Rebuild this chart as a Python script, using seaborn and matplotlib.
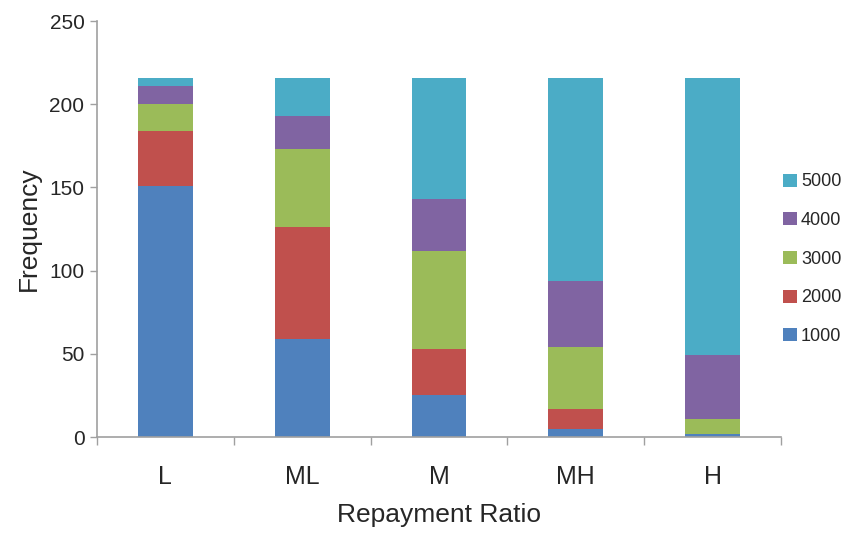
import matplotlib
matplotlib.use("Agg")
import matplotlib.pyplot as plt
import matplotlib.font_manager as fm
import seaborn as sns
import numpy as np
import pandas as pd
from matplotlib.patches import Patch

categories = ["L", "ML", "M", "MH", "H"]
series_names = ["1000", "2000", "3000", "4000", "5000"]
v1000 = [151, 59, 25, 5, 2]
v2000 = [33, 67, 28, 12, 0]
v3000 = [16, 47, 59, 37, 9]
v4000 = [11, 20, 31, 40, 38]
v5000 = [5, 23, 73, 122, 167]
colors = ["#4F81BD", "#C0504D", "#9BBB59", "#8064A2", "#4BACC6"]

sns.set_style("white")
names = {f.name for f in fm.fontManager.ttflist}
fam = ["Liberation Sans Narrow"] if "Liberation Sans Narrow" in names else []
plt.rcParams["font.family"] = fam + ["Liberation Sans", "DejaVu Sans"]

fig = plt.figure(figsize=(8.53, 5.39), dpi=100)
ax = fig.add_axes([0.1137, 0.1892, 0.8019, 0.7718])

values = [v1000, v2000, v3000, v4000, v5000]
cum = np.cumsum(np.array(values), axis=0)

# draw cumulative heights from the top series down so each layer sits on the one below
for i in range(len(series_names) - 1, -1, -1):
    df = pd.DataFrame({"cat": categories, "h": cum[i]})
    sns.barplot(data=df, x="cat", y="h", color=colors[i], saturation=1,
                width=0.4, ax=ax, edgecolor="none", linewidth=0)

ax.set_ylim(0, 250)
ax.set_xlim(-0.5, 4.5)
ax.set_yticks(np.arange(0, 251, 50))
ax.tick_params(axis="y", labelsize=15, length=5, width=1, color="#a0a0a0",
               direction="out", left=True, pad=4)
ax.tick_params(axis="x", labelsize=18, length=0, pad=20)
ax.set_xticks(range(len(categories)))
ax.set_xticklabels(categories)
# category boundary ticks on the x axis
ax.set_xticks(np.arange(-0.5, 5.0, 1.0), minor=True)
ax.tick_params(axis="x", which="minor", length=6, width=1, color="#a0a0a0",
               direction="out", bottom=True)

for s in ["top", "right"]:
    ax.spines[s].set_visible(False)
for s in ["left", "bottom"]:
    ax.spines[s].set_color("#a0a0a0")
    ax.spines[s].set_linewidth(1.2)

ax.set_xlabel("Repayment Ratio", fontsize=19, labelpad=10)
ax.set_ylabel("Frequency", fontsize=19, labelpad=6)

handles = [Patch(facecolor=colors[i], edgecolor="none") for i in range(4, -1, -1)]
labels = [series_names[i] for i in range(4, -1, -1)]
fig.legend(handles, labels, loc="center left", bbox_to_anchor=(0.918, 0.519),
           frameon=False, fontsize=13, handlelength=0.75, handleheight=0.75,
           handletextpad=0.25, labelspacing=1.2, borderpad=0.0,
           borderaxespad=0.0)

fig.savefig("out.png", dpi=100)
